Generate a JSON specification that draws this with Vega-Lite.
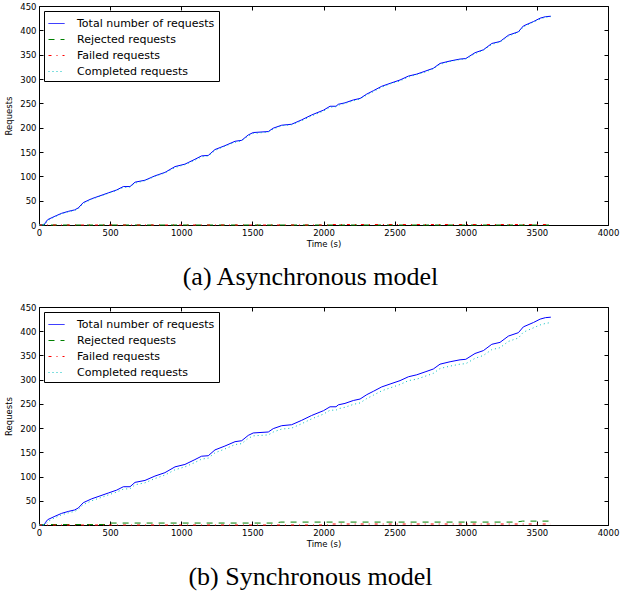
{
  "$schema": "https://vega.github.io/schema/vega-lite/v6.json",
  "padding": {"left": 4, "top": 1, "right": 0, "bottom": 0},
  "background": "white",
  "spacing": 11,
  "datasets": {
    "total": [
      {"t":0,"v":0,"s":"Total number of requests"},{"t":37,"v":0,"s":"Total number of requests"},{"t":45,"v":5,"s":"Total number of requests"},{"t":61,"v":11,"s":"Total number of requests"},{"t":112,"v":18,"s":"Total number of requests"},{"t":159,"v":24,"s":"Total number of requests"},{"t":206,"v":28,"s":"Total number of requests"},{"t":250,"v":31,"s":"Total number of requests"},{"t":276,"v":35,"s":"Total number of requests"},{"t":311,"v":46,"s":"Total number of requests"},{"t":370,"v":54,"s":"Total number of requests"},{"t":429,"v":60,"s":"Total number of requests"},{"t":487,"v":66,"s":"Total number of requests"},{"t":546,"v":72,"s":"Total number of requests"},{"t":593,"v":79,"s":"Total number of requests"},{"t":640,"v":79,"s":"Total number of requests"},{"t":675,"v":88,"s":"Total number of requests"},{"t":745,"v":92,"s":"Total number of requests"},{"t":815,"v":101,"s":"Total number of requests"},{"t":885,"v":108,"s":"Total number of requests"},{"t":956,"v":120,"s":"Total number of requests"},{"t":1026,"v":125,"s":"Total number of requests"},{"t":1096,"v":135,"s":"Total number of requests"},{"t":1143,"v":142,"s":"Total number of requests"},{"t":1190,"v":143,"s":"Total number of requests"},{"t":1237,"v":155,"s":"Total number of requests"},{"t":1307,"v":163,"s":"Total number of requests"},{"t":1378,"v":172,"s":"Total number of requests"},{"t":1425,"v":174,"s":"Total number of requests"},{"t":1471,"v":185,"s":"Total number of requests"},{"t":1506,"v":190,"s":"Total number of requests"},{"t":1612,"v":192,"s":"Total number of requests"},{"t":1647,"v":199,"s":"Total number of requests"},{"t":1706,"v":205,"s":"Total number of requests"},{"t":1776,"v":207,"s":"Total number of requests"},{"t":1846,"v":216,"s":"Total number of requests"},{"t":1916,"v":226,"s":"Total number of requests"},{"t":2000,"v":236,"s":"Total number of requests"},{"t":2046,"v":244,"s":"Total number of requests"},{"t":2088,"v":244,"s":"Total number of requests"},{"t":2104,"v":248,"s":"Total number of requests"},{"t":2151,"v":251,"s":"Total number of requests"},{"t":2210,"v":257,"s":"Total number of requests"},{"t":2257,"v":260,"s":"Total number of requests"},{"t":2304,"v":269,"s":"Total number of requests"},{"t":2351,"v":276,"s":"Total number of requests"},{"t":2409,"v":285,"s":"Total number of requests"},{"t":2468,"v":291,"s":"Total number of requests"},{"t":2538,"v":298,"s":"Total number of requests"},{"t":2597,"v":306,"s":"Total number of requests"},{"t":2655,"v":310,"s":"Total number of requests"},{"t":2714,"v":316,"s":"Total number of requests"},{"t":2772,"v":322,"s":"Total number of requests"},{"t":2819,"v":332,"s":"Total number of requests"},{"t":2890,"v":337,"s":"Total number of requests"},{"t":2960,"v":341,"s":"Total number of requests"},{"t":3000,"v":342,"s":"Total number of requests"},{"t":3065,"v":354,"s":"Total number of requests"},{"t":3124,"v":360,"s":"Total number of requests"},{"t":3183,"v":373,"s":"Total number of requests"},{"t":3241,"v":377,"s":"Total number of requests"},{"t":3300,"v":390,"s":"Total number of requests"},{"t":3370,"v":397,"s":"Total number of requests"},{"t":3405,"v":409,"s":"Total number of requests"},{"t":3476,"v":418,"s":"Total number of requests"},{"t":3523,"v":425,"s":"Total number of requests"},{"t":3560,"v":428,"s":"Total number of requests"},{"t":3598,"v":429,"s":"Total number of requests"}
    ],
    "rejA": [
      {"t":0,"v":0,"s":"Rejected requests"},{"t":3598,"v":0,"s":"Rejected requests"}
    ],
    "failA": [
      {"t":0,"v":0,"s":"Failed requests"},{"t":2050,"v":0,"s":"Failed requests"},{"t":2060,"v":1,"s":"Failed requests"},{"t":3598,"v":1,"s":"Failed requests"}
    ],
    "compA": [
      {"t":0,"v":0,"s":"Completed requests"},{"t":45,"v":2,"s":"Completed requests"},{"t":61,"v":9,"s":"Completed requests"},{"t":112,"v":17,"s":"Completed requests"},{"t":159,"v":23,"s":"Completed requests"},{"t":206,"v":27,"s":"Completed requests"},{"t":250,"v":30,"s":"Completed requests"},{"t":276,"v":33,"s":"Completed requests"},{"t":311,"v":44,"s":"Completed requests"},{"t":370,"v":53,"s":"Completed requests"},{"t":429,"v":59,"s":"Completed requests"},{"t":487,"v":65,"s":"Completed requests"},{"t":546,"v":71,"s":"Completed requests"},{"t":593,"v":77,"s":"Completed requests"},{"t":640,"v":78,"s":"Completed requests"},{"t":675,"v":86,"s":"Completed requests"},{"t":745,"v":91,"s":"Completed requests"},{"t":815,"v":100,"s":"Completed requests"},{"t":885,"v":107,"s":"Completed requests"},{"t":956,"v":118,"s":"Completed requests"},{"t":1026,"v":124,"s":"Completed requests"},{"t":1096,"v":133,"s":"Completed requests"},{"t":1143,"v":140,"s":"Completed requests"},{"t":1190,"v":142,"s":"Completed requests"},{"t":1237,"v":153,"s":"Completed requests"},{"t":1307,"v":162,"s":"Completed requests"},{"t":1378,"v":170,"s":"Completed requests"},{"t":1425,"v":173,"s":"Completed requests"},{"t":1471,"v":183,"s":"Completed requests"},{"t":1506,"v":188,"s":"Completed requests"},{"t":1612,"v":191,"s":"Completed requests"},{"t":1647,"v":197,"s":"Completed requests"},{"t":1706,"v":204,"s":"Completed requests"},{"t":1776,"v":206,"s":"Completed requests"},{"t":1846,"v":214,"s":"Completed requests"},{"t":1916,"v":224,"s":"Completed requests"},{"t":2000,"v":234,"s":"Completed requests"},{"t":2046,"v":242,"s":"Completed requests"},{"t":2088,"v":243,"s":"Completed requests"},{"t":2104,"v":246,"s":"Completed requests"},{"t":2151,"v":250,"s":"Completed requests"},{"t":2210,"v":255,"s":"Completed requests"},{"t":2257,"v":259,"s":"Completed requests"},{"t":2304,"v":267,"s":"Completed requests"},{"t":2351,"v":274,"s":"Completed requests"},{"t":2409,"v":283,"s":"Completed requests"},{"t":2468,"v":290,"s":"Completed requests"},{"t":2538,"v":296,"s":"Completed requests"},{"t":2597,"v":304,"s":"Completed requests"},{"t":2655,"v":309,"s":"Completed requests"},{"t":2714,"v":314,"s":"Completed requests"},{"t":2772,"v":321,"s":"Completed requests"},{"t":2819,"v":330,"s":"Completed requests"},{"t":2890,"v":336,"s":"Completed requests"},{"t":2960,"v":340,"s":"Completed requests"},{"t":3000,"v":341,"s":"Completed requests"},{"t":3065,"v":352,"s":"Completed requests"},{"t":3124,"v":359,"s":"Completed requests"},{"t":3183,"v":371,"s":"Completed requests"},{"t":3241,"v":376,"s":"Completed requests"},{"t":3300,"v":388,"s":"Completed requests"},{"t":3370,"v":396,"s":"Completed requests"},{"t":3405,"v":407,"s":"Completed requests"},{"t":3476,"v":417,"s":"Completed requests"},{"t":3523,"v":423,"s":"Completed requests"},{"t":3560,"v":427,"s":"Completed requests"},{"t":3598,"v":428,"s":"Completed requests"}
    ],
    "rejB": [
      {"t":0,"v":0,"s":"Rejected requests"},{"t":60,"v":1,"s":"Rejected requests"},{"t":480,"v":1,"s":"Rejected requests"},{"t":500,"v":4,"s":"Rejected requests"},{"t":1650,"v":4,"s":"Rejected requests"},{"t":1700,"v":6,"s":"Rejected requests"},{"t":3350,"v":6,"s":"Rejected requests"},{"t":3400,"v":8,"s":"Rejected requests"},{"t":3598,"v":8,"s":"Rejected requests"}
    ],
    "failB": [
      {"t":0,"v":0,"s":"Failed requests"},{"t":2050,"v":0,"s":"Failed requests"},{"t":2060,"v":2,"s":"Failed requests"},{"t":3598,"v":2,"s":"Failed requests"}
    ],
    "compB": [
      {"t":0,"v":0,"s":"Completed requests"},{"t":45,"v":1,"s":"Completed requests"},{"t":61,"v":7,"s":"Completed requests"},{"t":112,"v":15,"s":"Completed requests"},{"t":159,"v":21,"s":"Completed requests"},{"t":206,"v":25,"s":"Completed requests"},{"t":250,"v":28,"s":"Completed requests"},{"t":276,"v":32,"s":"Completed requests"},{"t":311,"v":42,"s":"Completed requests"},{"t":370,"v":50,"s":"Completed requests"},{"t":429,"v":56,"s":"Completed requests"},{"t":487,"v":62,"s":"Completed requests"},{"t":546,"v":68,"s":"Completed requests"},{"t":593,"v":74,"s":"Completed requests"},{"t":640,"v":75,"s":"Completed requests"},{"t":675,"v":83,"s":"Completed requests"},{"t":745,"v":87,"s":"Completed requests"},{"t":815,"v":96,"s":"Completed requests"},{"t":885,"v":103,"s":"Completed requests"},{"t":956,"v":114,"s":"Completed requests"},{"t":1026,"v":120,"s":"Completed requests"},{"t":1096,"v":129,"s":"Completed requests"},{"t":1143,"v":136,"s":"Completed requests"},{"t":1190,"v":138,"s":"Completed requests"},{"t":1237,"v":149,"s":"Completed requests"},{"t":1307,"v":157,"s":"Completed requests"},{"t":1378,"v":166,"s":"Completed requests"},{"t":1425,"v":168,"s":"Completed requests"},{"t":1471,"v":179,"s":"Completed requests"},{"t":1506,"v":184,"s":"Completed requests"},{"t":1612,"v":186,"s":"Completed requests"},{"t":1647,"v":192,"s":"Completed requests"},{"t":1706,"v":198,"s":"Completed requests"},{"t":1776,"v":200,"s":"Completed requests"},{"t":1846,"v":209,"s":"Completed requests"},{"t":1916,"v":219,"s":"Completed requests"},{"t":2000,"v":229,"s":"Completed requests"},{"t":2046,"v":237,"s":"Completed requests"},{"t":2088,"v":237,"s":"Completed requests"},{"t":2104,"v":240,"s":"Completed requests"},{"t":2151,"v":243,"s":"Completed requests"},{"t":2210,"v":249,"s":"Completed requests"},{"t":2257,"v":252,"s":"Completed requests"},{"t":2304,"v":261,"s":"Completed requests"},{"t":2351,"v":268,"s":"Completed requests"},{"t":2409,"v":277,"s":"Completed requests"},{"t":2468,"v":283,"s":"Completed requests"},{"t":2538,"v":290,"s":"Completed requests"},{"t":2597,"v":298,"s":"Completed requests"},{"t":2655,"v":301,"s":"Completed requests"},{"t":2714,"v":307,"s":"Completed requests"},{"t":2772,"v":313,"s":"Completed requests"},{"t":2819,"v":323,"s":"Completed requests"},{"t":2890,"v":328,"s":"Completed requests"},{"t":2960,"v":332,"s":"Completed requests"},{"t":3000,"v":333,"s":"Completed requests"},{"t":3065,"v":344,"s":"Completed requests"},{"t":3124,"v":350,"s":"Completed requests"},{"t":3183,"v":362,"s":"Completed requests"},{"t":3241,"v":366,"s":"Completed requests"},{"t":3300,"v":379,"s":"Completed requests"},{"t":3370,"v":386,"s":"Completed requests"},{"t":3405,"v":398,"s":"Completed requests"},{"t":3476,"v":407,"s":"Completed requests"},{"t":3523,"v":413,"s":"Completed requests"},{"t":3560,"v":416,"s":"Completed requests"},{"t":3598,"v":418,"s":"Completed requests"}
    ]
  },
  "vconcat": [
    {
      "width": 569,
      "height": 219,
      "title": {"text": "(a) Asynchronous model", "orient": "bottom", "anchor": "middle", "dx": -13, "offset": 16, "font": "Liberation Serif", "fontSize": 26, "fontWeight": "normal", "color": "black"},
      "encoding": {
        "x": {"field": "t", "type": "quantitative", "scale": {"domain": [0, 4000], "nice": false}, "axis": {"orient": "bottom", "title": "Time (s)", "titleFontWeight": "normal", "format": "d", "values": [0,500,1000,1500,2000,2500,3000,3500,4000]}},
        "y": {"field": "v", "type": "quantitative", "scale": {"domain": [0, 450], "nice": false}, "axis": {"orient": "left", "title": "Requests", "titleFontWeight": "normal", "format": "d", "values": [0,50,100,150,200,250,300,350,400,450]}}
      },
      "layer": [
        {"data": {"name": "rejA"}, "mark": {"type": "line", "strokeWidth": 1, "color": "transparent"},
         "encoding": {
           "x": {"field": "t", "type": "quantitative", "axis": {"orient": "top", "labels": false, "title": null, "values": [0,500,1000,1500,2000,2500,3000,3500,4000]}},
           "y": {"field": "v", "type": "quantitative", "axis": {"orient": "right", "labels": false, "title": null, "values": [0,50,100,150,200,250,300,350,400,450]}}
         }},
        {
          "encoding": {
            "color": {"field": "s", "type": "nominal", "scale": {"domain": ["Total number of requests","Rejected requests","Failed requests","Completed requests"], "range": ["#0000ff","#008000","#ff0000","#00bfbf"]},
              "legend": {"title": null, "encode": {"symbols": {"update": {
                "stroke": {"signal": "datum.value === 'Rejected requests' ? '#008000' : datum.value === 'Failed requests' ? '#ff0000' : datum.value === 'Completed requests' ? '#00bfbf' : '#0000ff'"},
                "strokeDash": {"signal": "datum.value === 'Rejected requests' ? [6,6] : datum.value === 'Failed requests' ? [3,5,1,5] : datum.value === 'Completed requests' ? [1,3] : [1,0]"}}}}}}
          },
          "layer": [
            {"data": {"name": "total"}, "mark": {"type": "line", "strokeWidth": 1}},
            {"data": {"name": "rejA"}, "mark": {"type": "line", "strokeWidth": 1, "strokeDash": [6,6]}},
            {"data": {"name": "failA"}, "mark": {"type": "line", "strokeWidth": 1, "strokeDash": [3,5,1,5]}},
            {"data": {"name": "compA"}, "mark": {"type": "line", "strokeWidth": 1, "strokeDash": [1,3]}}
          ]
        }
      ],
      "resolve": {"axis": {"x": "independent", "y": "independent"}}
    },
    {
      "width": 569,
      "height": 218,
      "title": {"text": "(b) Synchronous model", "orient": "bottom", "anchor": "middle", "dx": -13, "offset": 16, "font": "Liberation Serif", "fontSize": 26, "fontWeight": "normal", "color": "black"},
      "encoding": {
        "x": {"field": "t", "type": "quantitative", "scale": {"domain": [0, 4000], "nice": false}, "axis": {"orient": "bottom", "title": "Time (s)", "titleFontWeight": "normal", "format": "d", "values": [0,500,1000,1500,2000,2500,3000,3500,4000]}},
        "y": {"field": "v", "type": "quantitative", "scale": {"domain": [0, 450], "nice": false}, "axis": {"orient": "left", "title": "Requests", "titleFontWeight": "normal", "format": "d", "values": [0,50,100,150,200,250,300,350,400,450]}}
      },
      "layer": [
        {"data": {"name": "rejB"}, "mark": {"type": "line", "strokeWidth": 1, "color": "transparent"},
         "encoding": {
           "x": {"field": "t", "type": "quantitative", "axis": {"orient": "top", "labels": false, "title": null, "values": [0,500,1000,1500,2000,2500,3000,3500,4000]}},
           "y": {"field": "v", "type": "quantitative", "axis": {"orient": "right", "labels": false, "title": null, "values": [0,50,100,150,200,250,300,350,400,450]}}
         }},
        {
          "encoding": {
            "color": {"field": "s", "type": "nominal", "scale": {"domain": ["Total number of requests","Rejected requests","Failed requests","Completed requests"], "range": ["#0000ff","#008000","#ff0000","#00bfbf"]},
              "legend": {"title": null, "encode": {"symbols": {"update": {
                "stroke": {"signal": "datum.value === 'Rejected requests' ? '#008000' : datum.value === 'Failed requests' ? '#ff0000' : datum.value === 'Completed requests' ? '#00bfbf' : '#0000ff'"},
                "strokeDash": {"signal": "datum.value === 'Rejected requests' ? [6,6] : datum.value === 'Failed requests' ? [3,5,1,5] : datum.value === 'Completed requests' ? [1,3] : [1,0]"}}}}}}
          },
          "layer": [
            {"data": {"name": "total"}, "mark": {"type": "line", "strokeWidth": 1}},
            {"data": {"name": "rejB"}, "mark": {"type": "line", "strokeWidth": 1, "strokeDash": [6,6]}},
            {"data": {"name": "failB"}, "mark": {"type": "line", "strokeWidth": 1, "strokeDash": [3,5,1,5]}},
            {"data": {"name": "compB"}, "mark": {"type": "line", "strokeWidth": 1, "strokeDash": [1,3]}}
          ]
        }
      ],
      "resolve": {"axis": {"x": "independent", "y": "independent"}}
    }
  ],
  "resolve": {"scale": {"color": "independent"}, "legend": {"color": "independent"}},
  "config": {
    "view": {"stroke": "black", "strokeWidth": 1},
    "axis": {
      "domain": false, "grid": false, "ticks": true, "tickColor": "black", "tickSize": -4, "tickWidth": 1,
      "labelFont": "DejaVu Sans", "labelFontSize": 8.5, "labelColor": "black", "labelFlush": false, "labelOverlap": false, "labelPadding": 7,
      "titleFont": "DejaVu Sans", "titleFontSize": 8.5, "titleFontWeight": "normal", "titleColor": "black", "titlePadding": 3
    },
    "axisLeft": {"titlePadding": 6},
    "legend": {
      "orient": "top-left", "offset": 5, "strokeColor": "black", "fillColor": "white", "padding": 4, "cornerRadius": 0,
      "labelFont": "DejaVu Sans", "labelFontSize": 11, "labelColor": "black", "labelOffset": 12, "labelLimit": 300,
      "symbolType": "stroke", "symbolSize": 256, "symbolStrokeWidth": 1, "rowPadding": 2
    }
  }
}
